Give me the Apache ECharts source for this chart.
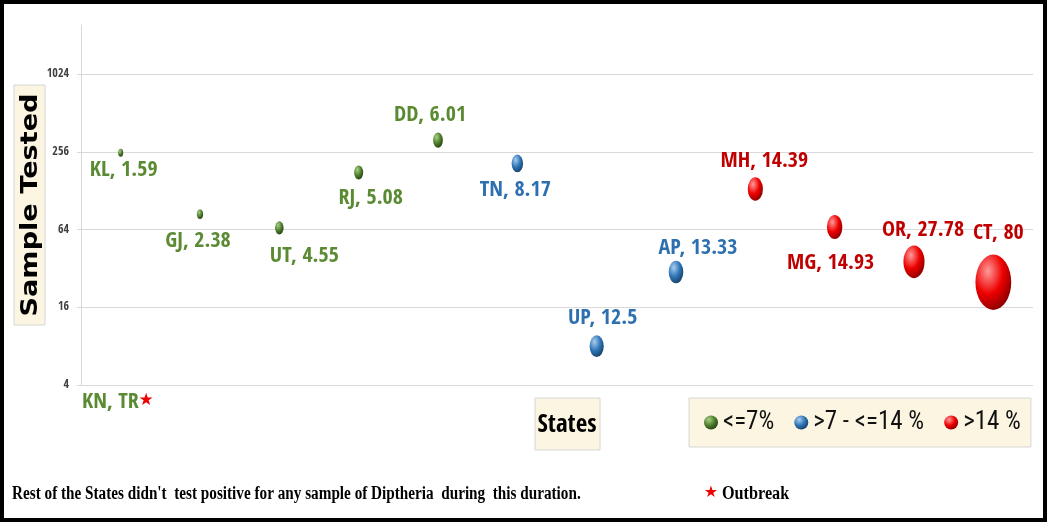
<!DOCTYPE html>
<html>
<head>
<meta charset="utf-8">
<script src="https://cdn.jsdelivr.net/npm/echarts@6/dist/echarts.min.js"></script>
<style>
  html, body { margin: 0; padding: 0; background: #ffffff; }
  #chart { width: 1047px; height: 522px; }
</style>
</head>
<body>
<div id="chart"></div>
<script>
// ---- data ----
const states = ['KL', 'GJ', 'UT', 'RJ', 'DD', 'TN', 'UP', 'AP', 'MH', 'MG', 'OR', 'CT'];
const samplesTested = [252, 84, 66, 177, 316, 208, 8, 30, 132, 67, 36, 25];
const positivity = [1.59, 2.38, 4.55, 5.08, 6.01, 8.17, 12.5, 13.33, 14.39, 14.93, 27.78, 80];
const groupNames = ['<=7%', '>7 - <=14 %', '>14 %'];
const yTickLabels = [4, 16, 64, 256, 1024];
const outbreakStates = 'KN, TR';
const footNote = "Rest of the States didn't  test positive for any sample of Diptheria  during  this duration.";

// ---- styles ----
const COND = "'Open Sans Condensed', 'Roboto Condensed', sans-serif";
const COND_REG = "'Roboto Condensed', 'Open Sans Condensed', sans-serif";
const SERIF = "'Liberation Serif', 'DejaVu Serif', serif";
const groupStyle = [
  { text: '#5a8a32', stops: ['#a8d188', '#4f7f2c', '#263f14'] },
  { text: '#2e6fb0', stops: ['#a9cdef', '#2e75b6', '#163f68'] },
  { text: '#c00000', stops: ['#ff9a9a', '#ee0000', '#8a0000'] }
];
const labelOffsets = {
  KL: [3, 18], GJ: [-2, 27], UT: [25, 28], RJ: [12, 26], DD: [-8, -25], TN: [-2, 27],
  UP: [6, -28], AP: [22, -24], MH: [9, -28], MG: [-4, 36], OR: [9, -32], CT: [5, -49]
};
const BUBBLE = 'path://M50 0A50 50 0 1 1 50 100A50 50 0 1 1 50 0Z';

function groupOf(p) { return p <= 7 ? 0 : (p <= 14 ? 1 : 2); }

const series = groupNames.map((name, g) => {
  const data = [];
  states.forEach((s, i) => {
    if (groupOf(positivity[i]) === g) {
      data.push({ value: [s, samplesTested[i], positivity[i]], label: { offset: labelOffsets[s] } });
    }
  });
  const st = groupStyle[g];
  return {
    name: name,
    type: 'scatter',
    symbol: BUBBLE,
    symbolSize: v => { const w = 4 * Math.sqrt(v[2]); return [w, w * 1.55]; },
    itemStyle: {
      opacity: 1,
      color: { type: 'radial', x: 0.35, y: 0.3, r: 0.75, colorStops: [
        { offset: 0, color: st.stops[0] }, { offset: 0.55, color: st.stops[1] }, { offset: 1, color: st.stops[2] }
      ] }
    },
    label: {
      show: true, position: 'inside', align: 'center', verticalAlign: 'middle',
      formatter: p => p.value[0] + ', ' + p.value[2],
      color: st.text, fontFamily: COND, fontWeight: 'bold', fontSize: 22
    },
    emphasis: { disabled: true },
    data: data
  };
});

const chart = echarts.init(document.getElementById('chart'), null, { renderer: 'canvas' });
chart.setOption({
  animation: false,
  backgroundColor: '#ffffff',
  grid: { left: 81, right: 14, top: 25, bottom: 137, containLabel: false },
  xAxis: {
    type: 'category', data: states, boundaryGap: true,
    axisLine: { show: false }, axisTick: { show: false }, axisLabel: { show: false }, splitLine: { show: false }
  },
  yAxis: {
    type: 'log', logBase: 4, min: 4, max: 2459,
    axisLine: { show: true, lineStyle: { color: '#d9d9d9' } },
    axisTick: { show: true, length: 4, lineStyle: { color: '#d9d9d9' } },
    axisLabel: {
      margin: 12, color: '#404040', fontFamily: COND, fontWeight: 'bold', fontSize: 12, showMaxLabel: false,
      formatter: v => yTickLabels.indexOf(Math.round(v)) >= 0 ? String(Math.round(v)) : ''
    },
    splitLine: { show: true, showMaxLine: false, lineStyle: { color: '#d9d9d9', width: 1 } }
  },
  legend: {
    data: groupNames,
    left: 689, top: 398,
    orient: 'horizontal',
    icon: BUBBLE,
    itemWidth: 14, itemHeight: 22, itemGap: 20,
    padding: [12, 10, 12, 15],
    backgroundColor: '#fcf5e1', borderColor: '#d6d6d6', borderWidth: 1,
    textStyle: { fontFamily: COND_REG, fontWeight: 'normal', fontSize: 25, color: '#111111' },
    selectedMode: false
  },
  series: series,
  graphic: [
    { type: 'rect', shape: { x: 2, y: 2, width: 1043, height: 518 }, style: { fill: null, stroke: '#000000', lineWidth: 4 }, z: 100 },
    { type: 'rect', shape: { x: 14, y: 85, width: 31, height: 240 }, style: { fill: '#fcf5e1', stroke: '#d6d6d6', lineWidth: 1 } },
    { type: 'text', x: 31, y: 205, rotation: Math.PI / 2, scaleX: 1.18,
      style: { text: 'Sample Tested', fill: '#000000', font: "bold 23px 'DejaVu Sans', Verdana, sans-serif", align: 'center', verticalAlign: 'middle' } },
    { type: 'rect', shape: { x: 535, y: 398, width: 65, height: 52 }, style: { fill: '#fcf5e1', stroke: '#d6d6d6', lineWidth: 1 } },
    { type: 'text', x: 567, y: 425,
      style: { text: 'States', fill: '#000000', font: 'bold 25px ' + COND, align: 'center', verticalAlign: 'middle' } },
    { type: 'text', x: 82, y: 402,
      style: { text: outbreakStates, fill: groupStyle[0].text, font: 'bold 22px ' + COND, align: 'left', verticalAlign: 'middle' } },
    { type: 'text', x: 146, y: 401,
      style: { text: '★', fill: '#ee0000', font: "17px 'DejaVu Sans', sans-serif", align: 'center', verticalAlign: 'middle' } },
    { type: 'text', x: 12, y: 494, scaleX: 0.845,
      style: { text: footNote, fill: '#000000', font: 'bold 18px ' + SERIF, align: 'left', verticalAlign: 'middle' } },
    { type: 'text', x: 711, y: 493,
      style: { text: '★', fill: '#ee0000', font: "16px 'DejaVu Sans', sans-serif", align: 'center', verticalAlign: 'middle' } },
    { type: 'text', x: 722, y: 494, scaleX: 0.9,
      style: { text: 'Outbreak', fill: '#000000', font: 'bold 18px ' + SERIF, align: 'left', verticalAlign: 'middle' } }
  ]
});
</script>
</body>
</html>
